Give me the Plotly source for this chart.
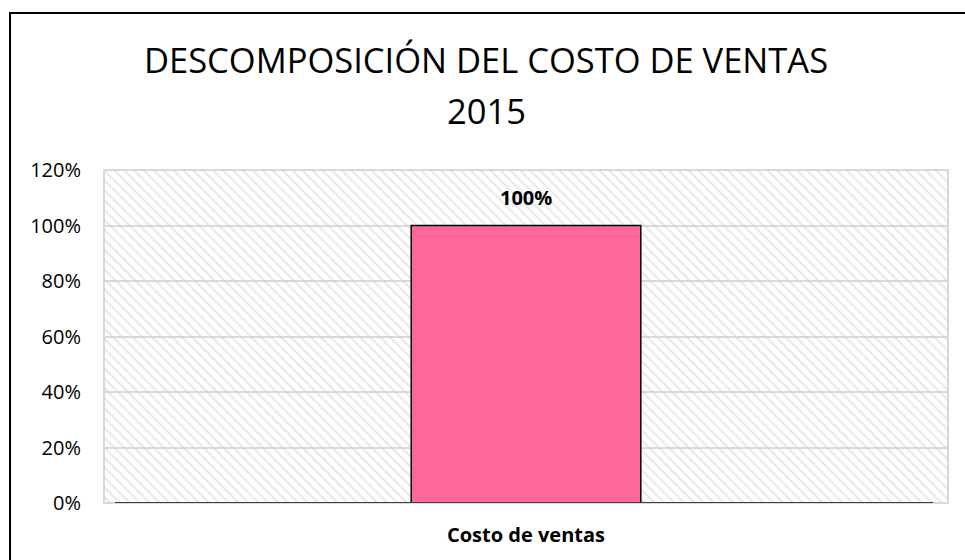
import plotly.graph_objects as go

# ---- data ----
categories = ["Costo de ventas"]
values = [1.00]
data_labels = ["100%"]
tick_vals = [0, 0.2, 0.4, 0.6, 0.8, 1.0, 1.2]
tick_text = ["0%", "20%", "40%", "60%", "80%", "100%", "120%"]
title_lines = ["DESCOMPOSICIÓN DEL COSTO DE VENTAS", "2015"]

Y_MAX = 1.2
W, H = 965, 560
ML, MR, MT, MB = 104, 17, 170, 55
PW = W - ML - MR
PH = H - MT - MB

def px_x(p):
    return (p - ML) / PW

def px_y(p):
    return (H - MB - p) / PH

fig = go.Figure()

# hatched plot-area background
fig.add_trace(go.Bar(
    x=categories, y=[Y_MAX] * len(categories), width=1.0,
    marker=dict(color="rgba(0,0,0,0)", line=dict(width=0),
                pattern=dict(shape="\\", fgcolor="#cfcfcf", bgcolor="rgba(0,0,0,0)",
                             size=7, solidity=0.28)),
    hoverinfo="skip", showlegend=False,
))

# data bar
fig.add_trace(go.Bar(
    x=categories, y=values, width=0.272,
    marker=dict(color="#FF6699", line=dict(color="#000000", width=1.5)),
    showlegend=False,
))

for c, v, t in zip(categories, values, data_labels):
    fig.add_annotation(x=c, y=v, text=t, showarrow=False,
                       yanchor="bottom", yshift=13,
                       font=dict(family="Open Sans", size=20, color="#000000", weight="bold"))

# title lines
for line, ypix in zip(title_lines, [59, 110]):
    fig.add_annotation(text=line, xref="paper", yref="paper",
                       x=px_x(486), y=px_y(ypix), xanchor="center", yanchor="middle",
                       showarrow=False,
                       font=dict(family="Open Sans", size=34.5, color="#000000"))

fig.update_layout(
    width=W, height=H,
    margin=dict(l=ML, r=MR, t=MT, b=MB, pad=0),
    paper_bgcolor="white", plot_bgcolor="white",
    barmode="overlay",
    xaxis=dict(showline=False, showgrid=False, zeroline=False, ticks="",
               tickfont=dict(family="Open Sans", size=20, color="#000000", weight="bold"),
               ticklabelstandoff=18, fixedrange=True),
    yaxis=dict(range=[0, Y_MAX], tickvals=tick_vals, ticktext=tick_text,
               showgrid=True, gridcolor="#d9d9d9", gridwidth=2, zeroline=False,
               showline=False, ticks="", ticklabelstandoff=22,
               tickfont=dict(family="Open Sans", size=20, color="#000000")),
    shapes=[
        dict(type="rect", xref="paper", yref="paper", x0=0, x1=1, y0=0, y1=1,
             line=dict(color="#d9d9d9", width=2), layer="below"),
        dict(type="line", xref="paper", yref="y", x0=px_x(115), x1=px_x(933), y0=0, y1=0,
             line=dict(color="#404040", width=2), layer="above"),
        dict(type="rect", xref="paper", yref="paper", x0=px_x(10), x1=px_x(990),
             y0=px_y(600), y1=px_y(12), line=dict(color="#000000", width=2),
             fillcolor="rgba(0,0,0,0)", layer="above"),
    ],
)

fig.write_html(
    "out.html",
    config={"displayModeBar": False},
    post_script="document.body.style.margin='0';document.body.style.overflow='hidden';",
)
